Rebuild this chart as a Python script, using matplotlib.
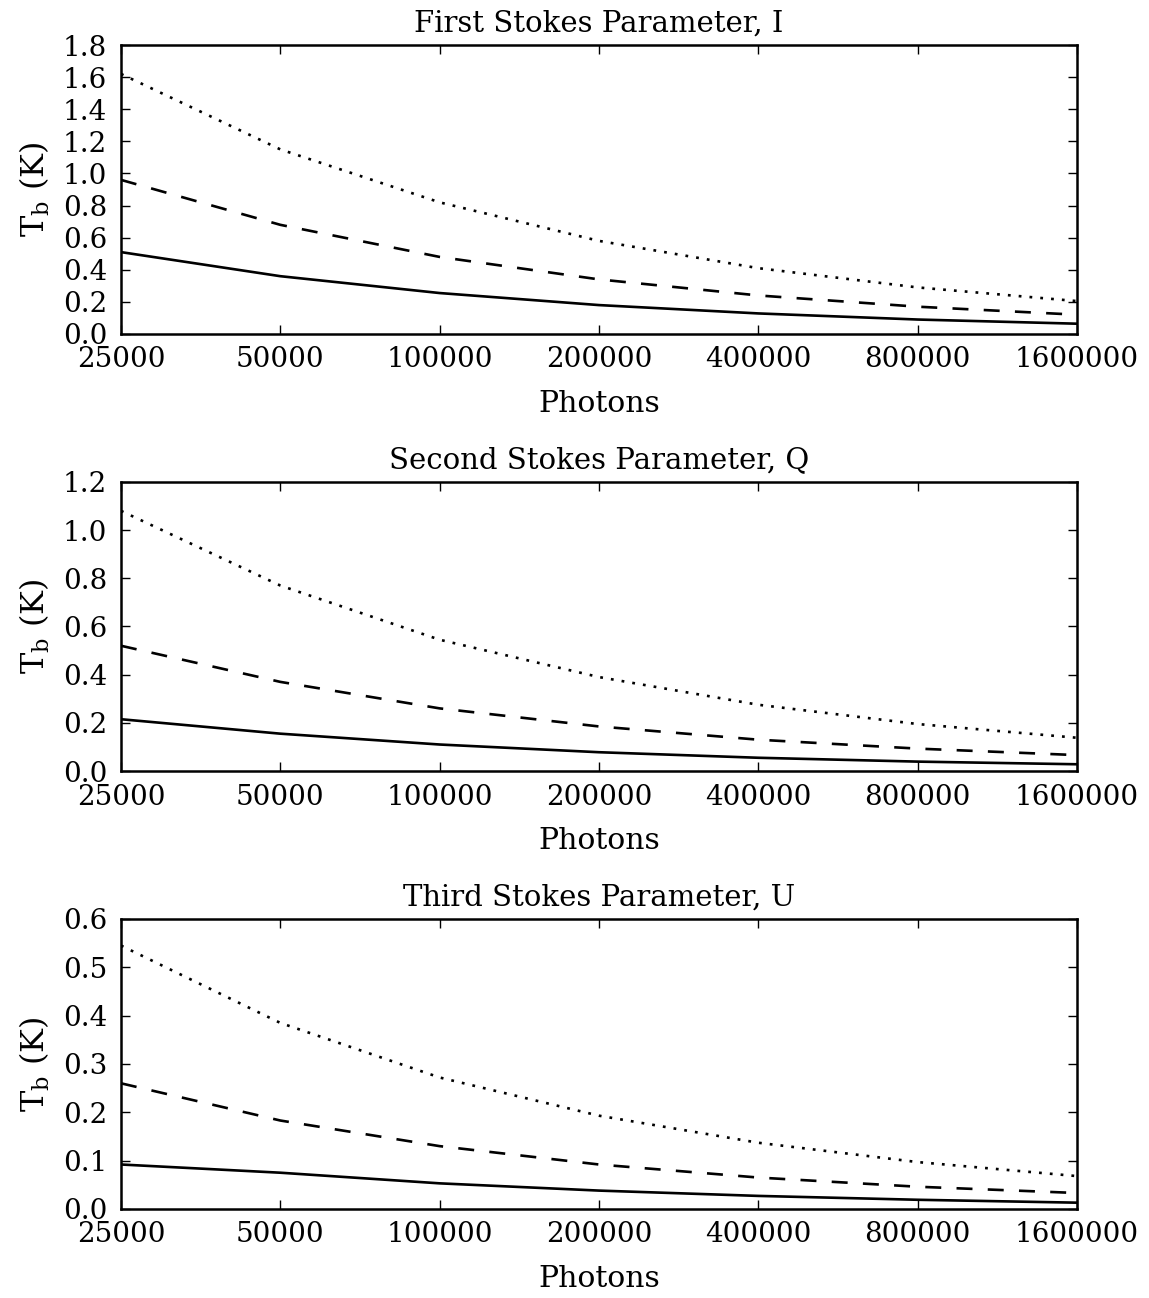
import matplotlib
matplotlib.use('Agg')
import matplotlib.pyplot as plt

# Photon counts (doubling steps)
photons = [25000, 50000, 100000, 200000, 400000, 800000, 1600000]
photon_labels = ["25000", "50000", "100000", "200000", "400000", "800000", "1600000"]

# Stokes I noise levels (K)
i_solid = [0.51, 0.36, 0.255, 0.18, 0.128, 0.09, 0.064]
i_dashed = [0.96, 0.68, 0.48, 0.34, 0.24, 0.17, 0.12]
i_dotted = [1.62, 1.15, 0.82, 0.58, 0.41, 0.29, 0.205]

# Stokes Q noise levels (K)
q_solid = [0.215, 0.155, 0.11, 0.078, 0.055, 0.039, 0.028]
q_dashed = [0.52, 0.37, 0.26, 0.185, 0.13, 0.093, 0.066]
q_dotted = [1.08, 0.77, 0.545, 0.39, 0.275, 0.195, 0.138]

# Stokes U noise levels (K)
u_solid = [0.092, 0.075, 0.053, 0.038, 0.027, 0.019, 0.013]
u_dashed = [0.26, 0.183, 0.13, 0.092, 0.065, 0.046, 0.033]
u_dotted = [0.545, 0.385, 0.272, 0.193, 0.137, 0.097, 0.068]

titles = ["First Stokes Parameter, I",
          "Second Stokes Parameter, Q",
          "Third Stokes Parameter, U"]
y_ticks = [
    [0.0, 0.2, 0.4, 0.6, 0.8, 1.0, 1.2, 1.4, 1.6, 1.8],
    [0.0, 0.2, 0.4, 0.6, 0.8, 1.0, 1.2],
    [0.0, 0.1, 0.2, 0.3, 0.4, 0.5, 0.6],
]
panels = [
    (i_solid, i_dashed, i_dotted),
    (q_solid, q_dashed, q_dotted),
    (u_solid, u_dashed, u_dotted),
]

plt.rcParams['font.family'] = 'DejaVu Serif'
plt.rcParams['mathtext.fontset'] = 'dejavuserif'
plt.rcParams['font.size'] = 20
plt.rcParams['lines.scale_dashes'] = False

fig = plt.figure(figsize=(11.49, 12.98), dpi=100)

# axes boxes: left, bottom, width, height (figure fractions)
boxes = [
    (0.1053, 0.7427, 0.8320, 0.2226),
    (0.1053, 0.4060, 0.8320, 0.2227),
    (0.1053, 0.0686, 0.8320, 0.2234),
]

for box, title, ticks, (solid, dashed, dotted) in zip(boxes, titles, y_ticks, panels):
    ax = fig.add_axes(box)
    ax.plot(photons, solid, color='black', linestyle='-', linewidth=1.9)
    ax.plot(photons, dashed, color='black', linestyle=(0, (11.5, 11)), linewidth=1.9,
            dash_capstyle='butt')
    ax.plot(photons, dotted, color='black', linestyle=(0, (2, 5.8)), linewidth=1.9,
            dash_capstyle='butt')

    ax.set_xscale('log', base=2)
    ax.set_xlim(photons[0], photons[-1])
    ax.set_xticks(photons)
    ax.set_xticklabels(photon_labels)
    ax.minorticks_off()

    ax.set_ylim(ticks[0], ticks[-1])
    ax.set_yticks(ticks)
    ax.set_yticklabels(["%.1f" % t for t in ticks])

    ax.tick_params(direction='in', top=True, right=True, length=6.5, width=1.0)
    ax.tick_params(axis='x', pad=9)
    ax.tick_params(axis='y', pad=10)
    for sp in ax.spines.values():
        sp.set_linewidth(1.8)

    ax.set_title(title, fontsize=21, pad=10)
    ax.set_xlabel("Photons", fontsize=21.5, labelpad=12)
    ax.set_ylabel(r"$\mathrm{T_b}$ (K)", fontsize=23, labelpad=8)

fig.savefig("out.png", dpi=100)
